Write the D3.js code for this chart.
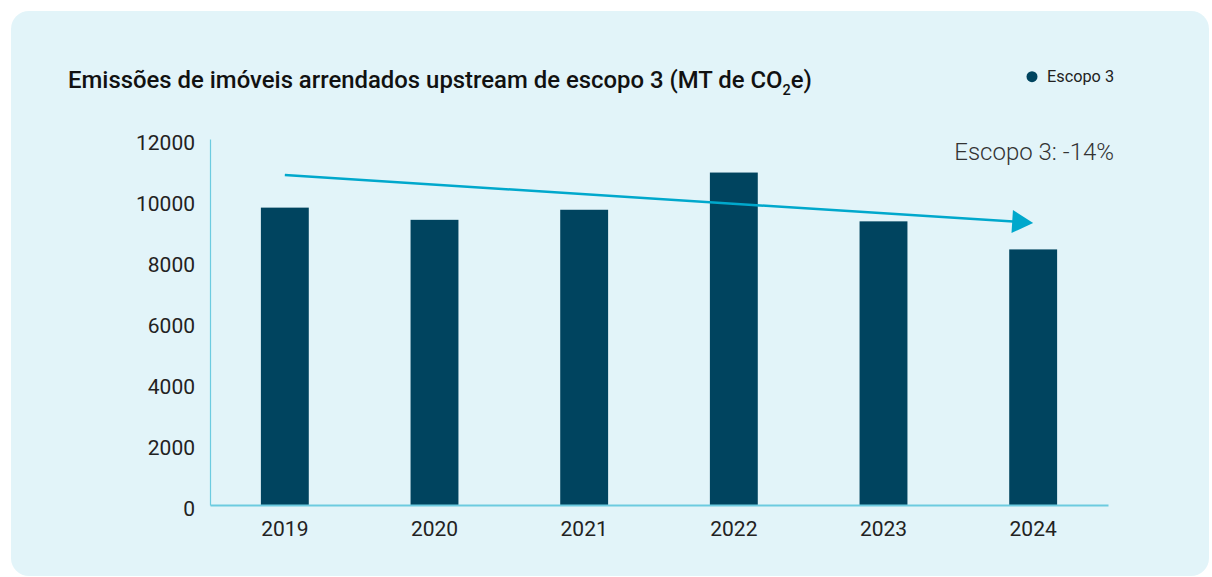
<!DOCTYPE html>
<html>
<head>
<meta charset="utf-8">
<script src="https://cdn.jsdelivr.net/npm/d3@7"></script>
<style>
  html, body { margin: 0; padding: 0; background: #ffffff; }
  svg { display: block; font-family: Roboto, "Noto Sans", sans-serif; }
</style>
</head>
<body>
<svg id="chart" width="1212" height="577"></svg>
<script>
const years = ["2019", "2020", "2021", "2022", "2023", "2024"];
const scope3 = [9750, 9350, 9680, 10900, 9300, 8380];
const yTicks = [0, 2000, 4000, 6000, 8000, 10000, 12000];
const trendValues = [10820, 9250];
const trendYears = ["2019", "2024"];
const seriesName = "Escopo 3";
const annotation = "Escopo 3: -14%";

const svg = d3.select("#chart");

// card background
svg.append("rect")
  .attr("x", 11).attr("y", 11)
  .attr("width", 1198).attr("height", 565)
  .attr("rx", 18).attr("ry", 18)
  .attr("fill", "#e2f4f9");

const margin = { left: 210, right: 104, top: 139, bottom: 72 };
const W = 1212, H = 577;
const x = d3.scaleBand().domain(years)
  .range([margin.left, W - margin.right])
  .paddingInner(0.68).paddingOuter(0.34);
const y = d3.scaleLinear().domain([0, 12000]).range([H - margin.bottom, margin.top]);

// title
const title = svg.append("text")
  .attr("x", 68).attr("y", 87.5)
  .attr("font-size", 23.9).attr("font-weight", 500).attr("fill", "#111");
title.append("tspan").text("Emissões de imóveis arrendados upstream de escopo 3 (MT de CO");
title.append("tspan").text("2").attr("font-size", 14.5).attr("dy", 7);
title.append("tspan").text("e)").attr("dy", -7);

// legend
svg.append("circle").attr("cx", 1032).attr("cy", 76.7).attr("r", 5.5).attr("fill", "#00445f");
svg.append("text").attr("x", 1047).attr("y", 82.3)
  .attr("font-size", 16.3).attr("fill", "#222").text(seriesName);

// bars
svg.append("g").selectAll("rect").data(years).join("rect")
  .attr("x", d => x(d))
  .attr("width", x.bandwidth())
  .attr("y", (d, i) => y(scope3[i]))
  .attr("height", (d, i) => y(0) - y(scope3[i]))
  .attr("fill", "#00445f");

// y axis
const yAxis = svg.append("g").attr("transform", `translate(${margin.left},0)`)
  .call(d3.axisLeft(y).tickValues(yTicks).tickSize(0).tickPadding(15).tickFormat(d3.format("d")));
yAxis.select(".domain").attr("stroke", "#6ccbe0").attr("stroke-width", 1.2);
yAxis.selectAll("text").attr("font-size", 21).attr("fill", "#222").attr("font-family", "Roboto").attr("dy", "0.5em");

// x axis
const xAxis = svg.append("g").attr("transform", `translate(0,${y(0)})`)
  .call(d3.axisBottom(x).tickSize(0).tickPadding(16));
xAxis.select(".domain").attr("stroke", "#6ccbe0").attr("stroke-width", 2);
xAxis.selectAll("text").attr("font-size", 21).attr("fill", "#222").attr("font-family", "Roboto");

// trend arrow
const x0 = x(trendYears[0]) + x.bandwidth() / 2;
const x1 = x(trendYears[1]) + x.bandwidth() / 2;
const y0 = y(trendValues[0]);
const y1 = y(trendValues[1]);
const ang = Math.atan2(y1 - y0, x1 - x0);
const headLen = 21, headHalf = 11.5;
const bx = x1 - headLen * Math.cos(ang), by = y1 - headLen * Math.sin(ang);
svg.append("line")
  .attr("x1", x0).attr("y1", y0).attr("x2", bx + Math.cos(ang)).attr("y2", by + Math.sin(ang))
  .attr("stroke", "#00a8cc").attr("stroke-width", 2.5);
const px = -Math.sin(ang), py = Math.cos(ang);
svg.append("path")
  .attr("d", d3.line()([[x1, y1], [bx + px * headHalf, by + py * headHalf], [bx - px * headHalf, by - py * headHalf]]) + "Z")
  .attr("fill", "#00a8cc");

// annotation
svg.append("text").attr("x", 1114).attr("y", 160)
  .attr("text-anchor", "end").attr("font-size", 24).attr("font-weight", 300)
  .attr("fill", "#333").text(annotation);
</script>
</body>
</html>
